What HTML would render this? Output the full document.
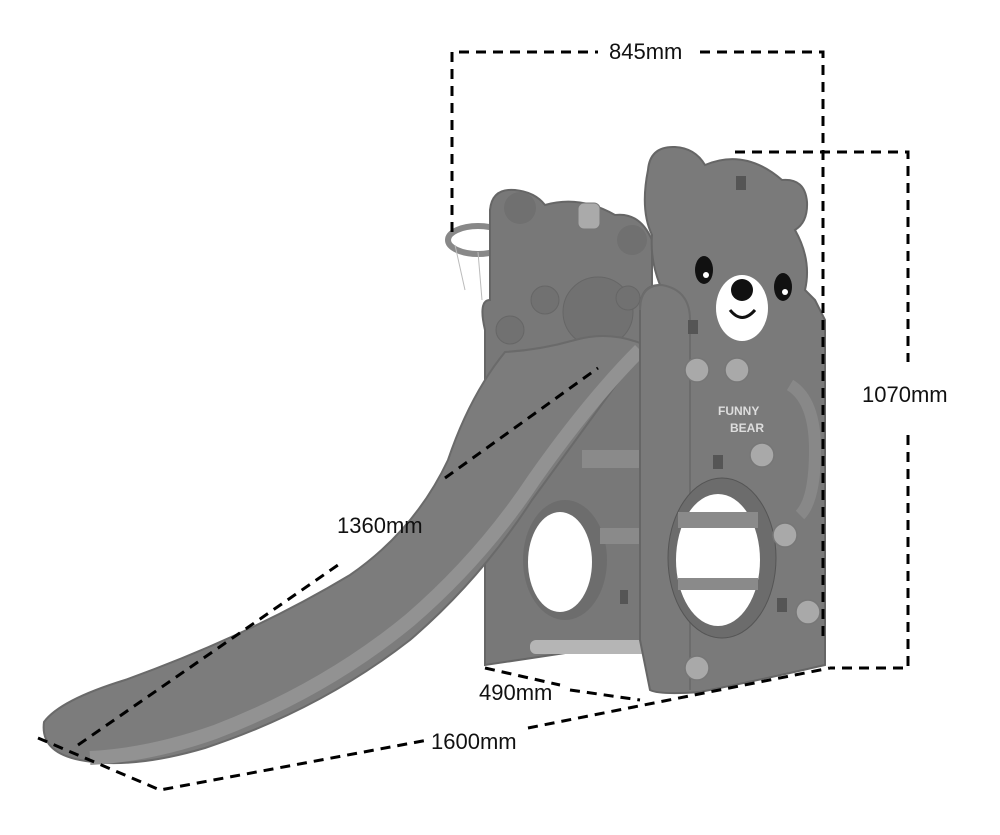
<!DOCTYPE html>
<html><head><meta charset="utf-8"><style>
html,body{margin:0;padding:0;background:#fff;width:1000px;height:835px;overflow:hidden}
svg{display:block}
text{font-family:"Liberation Sans",sans-serif;font-size:22px;fill:#111}
</style></head><body>
<svg width="1000" height="835" viewBox="0 0 1000 835" xmlns="http://www.w3.org/2000/svg">
<!-- hoop -->
<ellipse cx="478" cy="240" rx="30" ry="14" fill="none" stroke="#888" stroke-width="6"/>
<path d="M455,245 L465,290 M478,252 L482,300 M500,248 L492,295" stroke="#bbb" stroke-width="1" fill="none"/>
<!-- back panel -->
<path d="M490,210 Q492,188 515,190 Q535,192 545,205 Q580,195 615,215 Q640,212 652,240 L652,640 L485,665 L485,330 Q478,300 490,300 Z" fill="#787878" stroke="#666" stroke-width="2"/>
<circle cx="520" cy="208" r="16" fill="#707070"/>
<circle cx="632" cy="240" r="15" fill="#707070"/>
<circle cx="598" cy="312" r="35" fill="#717171" stroke="#666"/>
<circle cx="545" cy="300" r="14" fill="#717171" stroke="#666"/>
<circle cx="628" cy="298" r="12" fill="#717171" stroke="#666"/>
<circle cx="510" cy="330" r="14" fill="#717171" stroke="#666"/>
<rect x="578" y="203" width="22" height="26" rx="6" fill="#aaa" stroke="#777"/>
<!-- back panel hole -->
<ellipse cx="565" cy="560" rx="42" ry="60" fill="#6d6d6d"/>
<ellipse cx="560" cy="562" rx="32" ry="50" fill="#fff"/>
<!-- rungs -->
<rect x="582" y="450" width="60" height="18" fill="#8a8a8a"/>
<rect x="600" y="528" width="42" height="16" fill="#8a8a8a"/>
<rect x="530" y="640" width="120" height="14" rx="6" fill="#b5b5b5"/>
<!-- slide -->
<path d="M505,352 Q470,395 448,460 Q415,530 350,575 Q250,635 125,680 Q60,700 44,722 Q40,752 80,760 Q130,770 205,748 Q320,710 410,640 Q480,580 532,500 Q590,420 645,345 Q610,330 575,340 Q540,350 505,352 Z" fill="#7c7c7c" stroke="#6a6a6a" stroke-width="2"/>
<path d="M90,758 Q150,755 215,732 Q325,690 410,620 Q482,558 535,478 Q590,400 640,350" fill="none" stroke="#929292" stroke-width="14"/>
<!-- front panel -->
<path d="M648,170 Q650,146 675,147 Q695,148 705,165 Q745,148 782,180 Q805,178 807,202 Q808,222 795,230 Q812,260 805,290 L815,300 L825,320 L825,665 Q760,680 700,692 Q660,695 650,690 L640,640 L640,310 Q640,285 660,285 Q650,260 652,235 Q640,210 648,170 Z" fill="#7a7a7a" stroke="#666" stroke-width="2"/>
<path d="M640,310 Q640,285 662,285 Q690,290 690,320 L690,690" fill="none" stroke="#6c6c6c" stroke-width="2"/>
<!-- arm -->
<path d="M790,385 Q815,400 815,450 Q815,500 800,515" fill="none" stroke="#888" stroke-width="12"/>
<!-- face -->
<ellipse cx="742" cy="308" rx="26" ry="33" fill="#fff"/>
<circle cx="742" cy="290" r="11" fill="#111"/>
<path d="M730,310 Q742,325 755,310" fill="none" stroke="#111" stroke-width="3"/>
<ellipse cx="704" cy="270" rx="9" ry="14" fill="#111"/>
<ellipse cx="783" cy="287" rx="9" ry="14" fill="#111"/>
<circle cx="706" cy="275" r="3" fill="#fff"/><circle cx="785" cy="292" r="3" fill="#fff"/>
<rect x="736" y="176" width="10" height="14" fill="#555"/>
<rect x="688" y="320" width="10" height="14" fill="#555"/>
<rect x="713" y="455" width="10" height="14" fill="#555"/>
<rect x="620" y="590" width="8" height="14" fill="#555"/>
<rect x="777" y="598" width="10" height="14" fill="#555"/>
<text x="718" y="415" style="font-size:12px;font-weight:bold;fill:#ddd">FUNNY</text>
<text x="730" y="432" style="font-size:12px;font-weight:bold;fill:#ddd">BEAR</text>
<!-- front hole -->
<ellipse cx="722" cy="558" rx="54" ry="80" fill="#6c6c6c" stroke="#555"/>
<ellipse cx="718" cy="560" rx="42" ry="66" fill="#fff"/>
<rect x="678" y="512" width="80" height="16" fill="#8a8a8a"/>
<rect x="678" y="578" width="80" height="12" fill="#8a8a8a"/>
<!-- knobs -->
<g fill="#a9a9a9" stroke="#777" stroke-width="1.5">
<circle cx="697" cy="370" r="12"/><circle cx="737" cy="370" r="12"/>
<circle cx="762" cy="455" r="12"/><circle cx="785" cy="535" r="12"/>
<circle cx="808" cy="612" r="12"/><circle cx="697" cy="668" r="12"/>
</g>
<!-- dimension lines -->
<g fill="none" stroke="#000" stroke-width="3" stroke-dasharray="10,7">
<path d="M452,232 L452,52 L598,52"/>
<path d="M700,52 L823,52 L823,640"/>
<path d="M735,152 L908,152 L908,362"/>
<path d="M908,435 L908,668 L830,668"/>
<path d="M38,738 L160,790 L428,740"/>
<path d="M528,728 L830,668"/>
<path d="M485,668 L560,685"/>
<path d="M570,690 L640,700"/>
<path d="M78,745 L338,565"/>
<path d="M445,478 L598,368"/>
</g>
<text x="609" y="59">845mm</text>
<text x="862" y="402">1070mm</text>
<text x="337" y="533">1360mm</text>
<text x="479" y="700">490mm</text>
<text x="431" y="749">1600mm</text>
</svg>
</body></html>
